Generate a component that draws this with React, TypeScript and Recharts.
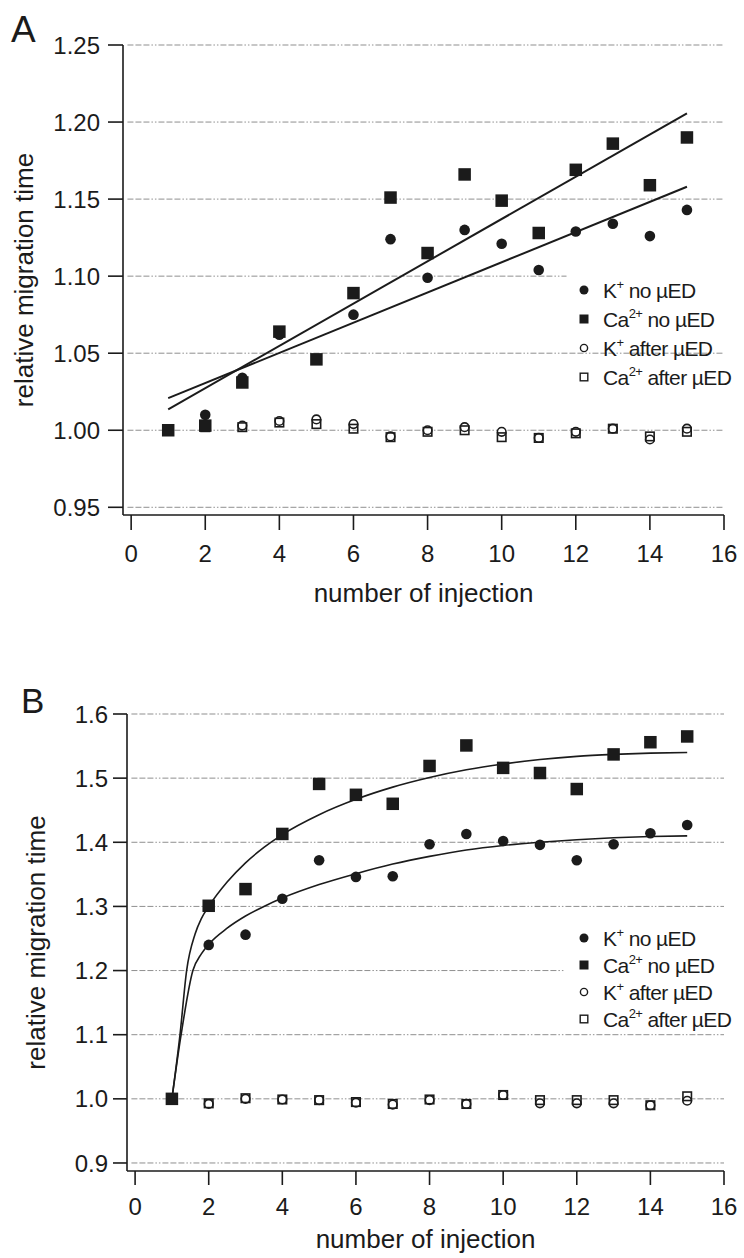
import React from "react";
import {
  ComposedChart,
  Line,
  Scatter,
  XAxis,
  YAxis,
  ReferenceLine,
  Label,
} from "recharts";

const FONT = '"Liberation Sans", Arial, Helvetica, sans-serif';
const INK = "#1b1b1b";
const GRID = "#8f8f8f";

// number of injection
const injections = [1, 2, 3, 4, 5, 6, 7, 8, 9, 10, 11, 12, 13, 14, 15];
const xTicks = [0, 2, 4, 6, 8, 10, 12, 14, 16];

// panel A: relative migration time
const kNoA = [1.0, 1.01, 1.034, 1.062, 1.046, 1.075, 1.124, 1.099, 1.13, 1.121, 1.104, 1.129, 1.134, 1.126, 1.143];
const caNoA = [1.0, 1.003, 1.031, 1.064, 1.046, 1.089, 1.151, 1.115, 1.166, 1.149, 1.128, 1.169, 1.186, 1.159, 1.19];
const kAfterA = [1.0, 1.003, 1.003, 1.006, 1.007, 1.004, 0.996, 1.0, 1.002, 0.999, 0.995, 0.999, 1.001, 0.994, 1.001];
const caAfterA = [1.0, 1.002, 1.002, 1.005, 1.004, 1.001, 0.9955, 0.999, 1.0, 0.9955, 0.995, 0.998, 1.001, 0.996, 0.999];
// linear fits, end points
const fitXA = [1, 15];
const kFitA = [1.0208, 1.158];
const caFitA = [1.0136, 1.2057];
const yTicksA = [0.95, 1.0, 1.05, 1.1, 1.15, 1.2, 1.25];

// panel B
const kNoB = [1.0, 1.24, 1.256, 1.312, 1.372, 1.346, 1.347, 1.397, 1.413, 1.402, 1.396, 1.372, 1.397, 1.414, 1.427];
const caNoB = [1.0, 1.301, 1.327, 1.413, 1.491, 1.474, 1.46, 1.519, 1.551, 1.516, 1.508, 1.483, 1.537, 1.556, 1.565];
const kAfterB = [1.0, 0.992, 1.0, 0.999, 0.998, 0.994, 0.991, 0.998, 0.992, 1.006, 0.993, 0.993, 0.993, 0.99, 0.997];
const caAfterB = [1.0, 0.993, 1.001, 0.999, 0.998, 0.995, 0.992, 0.999, 0.992, 1.006, 0.998, 0.998, 0.998, 0.99, 1.004];
// fitted curves
const kFitXB = [1, 1.25, 1.57, 1.8, 2, 2.5, 3, 3.5, 4, 5, 6, 7, 8, 9, 10, 11, 12, 13, 14, 15];
const kFitB = [1.0, 1.1, 1.2, 1.226, 1.241, 1.266, 1.285, 1.3, 1.313, 1.334, 1.351, 1.366, 1.378, 1.388, 1.395, 1.4, 1.404, 1.407, 1.409, 1.41];
const caFitXB = [1, 1.22, 1.4, 1.63, 1.8, 2, 2.5, 3, 3.5, 4, 5, 6, 7, 8, 9, 10, 11, 12, 13, 14, 15];
const caFitB = [1.0, 1.1, 1.2, 1.257, 1.281, 1.3, 1.338, 1.368, 1.392, 1.412, 1.443, 1.467, 1.486, 1.501, 1.513, 1.522, 1.529, 1.534, 1.537, 1.539, 1.54];
const yTicksB = [0.9, 1.0, 1.1, 1.2, 1.3, 1.4, 1.5, 1.6];

const legendIons = ["K", "Ca", "K", "Ca"];
const legendCharges = ["+", "2+", "+", "2+"];
const legendStates = ["no \u00b5ED", "no \u00b5ED", "after \u00b5ED", "after \u00b5ED"];

const rows = (xs: number[], ys: number[]) => xs.map((x, i) => ({ x, y: ys[i] }));

const dashDot = "6 2 6 2 6 2 1.5 2 1.5 2";

const FilledCircle = (r: number) => (p: any) => <circle cx={p.cx} cy={p.cy} r={r} fill={INK} />;
const FilledSquare = (s: number) => (p: any) => (
  <rect x={p.cx - s / 2} y={p.cy - s / 2} width={s} height={s} fill={INK} />
);
const OpenCircle = (r: number) => (p: any) => (
  <circle cx={p.cx} cy={p.cy} r={r} fill="#fff" stroke={INK} strokeWidth={1.6} />
);
const OpenSquare = (s: number) => (p: any) => (
  <rect x={p.cx - s / 2} y={p.cy - s / 2} width={s} height={s} fill="none" stroke={INK} strokeWidth={1.6} />
);

function LegendSvg({ top, step }: { top: number; step: number }) {
  const mx = 14;
  const tx = 33;
  return (
    <svg
      style={{ position: "absolute", left: 570, top: top - 16, overflow: "visible" }}
      width={170}
      height={step * 4 + 20}
    >
      {legendIons.map((ion, i) => {
        const y = 16 + i * step;
        let marker;
        if (i === 0) marker = <circle cx={mx} cy={y} r={4.5} fill={INK} />;
        else if (i === 1) marker = <rect x={mx - 4.5} y={y - 4.5} width={9} height={9} fill={INK} />;
        else if (i === 2) marker = <circle cx={mx} cy={y} r={3.6} fill="none" stroke={INK} strokeWidth={1.4} />;
        else marker = <rect x={mx - 3.8} y={y - 3.8} width={7.6} height={7.6} fill="none" stroke={INK} strokeWidth={1.4} />;
        return (
          <g key={i}>
            {marker}
            <text x={tx} y={y + 7.5} fontFamily={FONT} fontSize={21} letterSpacing={-0.6} fill={INK}>
              {ion}
              <tspan fontSize={13} dy={-9}>
                {legendCharges[i]}
              </tspan>
              <tspan dy={9}>{" " + legendStates[i]}</tspan>
            </text>
          </g>
        );
      })}
    </svg>
  );
}

type PanelProps = {
  top: number;
  height: number;
  marginTop: number;
  marginLeft: number;
  xAxisHeight: number;
  yDomain: [number, number];
  yTicks: number[];
  digits: number;
  tickSize: number;
  xTickMargin: number;
  yTickMargin: number;
  yLabelOffset: number;
  xLabelOffset: number;
  kNo: number[];
  caNo: number[];
  kAfter: number[];
  caAfter: number[];
  kFit: { x: number; y: number }[];
  caFit: { x: number; y: number }[];
  fitType: "linear" | "monotone";
  fitWidth: number;
  cutTick: number;
  cutEnd: number;
};

function Panel(p: PanelProps) {
  const tick = { fill: INK, fontSize: 24, fontFamily: FONT };
  return (
    <div style={{ position: "absolute", left: 0, top: p.top, width: 744, height: p.height }}>
      <ComposedChart
        width={744}
        height={p.height}
        margin={{ top: p.marginTop, right: 20, bottom: 0, left: p.marginLeft }}
      >
        <XAxis
          type="number"
          dataKey="x"
          domain={[-0.22, 16]}
          ticks={xTicks}
          interval={0}
          allowDataOverflow
          height={p.xAxisHeight}
          tickSize={p.tickSize}
          tickMargin={p.xTickMargin}
          stroke={INK}
          strokeWidth={1.6}
          tick={tick}
        >
          <Label
            value="number of injection"
            position="insideBottom"
            offset={p.xLabelOffset}
            style={{ fontSize: 26, fontFamily: FONT, fill: INK }}
          />
        </XAxis>
        <YAxis
          type="number"
          dataKey="y"
          domain={p.yDomain}
          ticks={p.yTicks}
          interval={0}
          allowDataOverflow
          width={80}
          tickSize={p.tickSize}
          tickMargin={p.yTickMargin}
          tickFormatter={(v: number) => v.toFixed(p.digits)}
          stroke={INK}
          strokeWidth={1.6}
          tick={tick}
        >
          <Label
            value="relative migration time"
            angle={-90}
            position="left"
            offset={p.yLabelOffset}
            textAnchor="middle"
            style={{ fontSize: 26, fontFamily: FONT, fill: INK }}
          />
        </YAxis>
        {p.yTicks.map((v) => (
          <ReferenceLine
            key={v}
            segment={[
              { x: -0.1, y: v },
              { x: v === p.cutTick ? p.cutEnd : 16, y: v },
            ]}
            stroke={GRID}
            strokeWidth={1}
            strokeDasharray={dashDot}
          />
        ))}
        <Scatter data={rows(injections, p.kAfter)} shape={OpenCircle(4.3)} isAnimationActive={false} />
        <Scatter data={rows(injections, p.caAfter)} shape={OpenSquare(8.5)} isAnimationActive={false} />
        <Scatter data={rows(injections, p.kNo)} shape={FilledCircle(5.3)} isAnimationActive={false} />
        <Scatter data={rows(injections, p.caNo)} shape={FilledSquare(12.5)} isAnimationActive={false} />
        <Line
          data={p.kFit}
          dataKey="y"
          type={p.fitType}
          stroke={INK}
          strokeWidth={p.fitWidth}
          dot={false}
          activeDot={false}
          isAnimationActive={false}
        />
        <Line
          data={p.caFit}
          dataKey="y"
          type={p.fitType}
          stroke={INK}
          strokeWidth={p.fitWidth}
          dot={false}
          activeDot={false}
          isAnimationActive={false}
        />
      </ComposedChart>
    </div>
  );
}

export default function App() {
  return (
    <div style={{ position: "absolute", left: 0, top: 0, width: 744, height: 1258, background: "#fff" }}>
      <Panel
        top={0}
        height={620}
        marginTop={45}
        marginLeft={43}
        xAxisHeight={105}
        yDomain={[0.945, 1.25]}
        yTicks={yTicksA}
        digits={2}
        tickSize={15}
        xTickMargin={15}
        yTickMargin={8}
        yLabelOffset={19}
        xLabelOffset={18}
        kNo={kNoA}
        caNo={caNoA}
        kAfter={kAfterA}
        caAfter={caAfterA}
        kFit={rows(fitXA, kFitA)}
        caFit={rows(fitXA, caFitA)}
        fitType="linear"
        fitWidth={2}
        cutTick={1.1}
        cutEnd={11.75}
      />
      <Panel
        top={620}
        height={638}
        marginTop={94}
        marginLeft={47}
        xAxisHeight={87}
        yDomain={[0.8875, 1.6]}
        yTicks={yTicksB}
        digits={1}
        tickSize={14}
        xTickMargin={13}
        yTickMargin={5}
        yLabelOffset={11}
        xLabelOffset={10}
        kNo={kNoB}
        caNo={caNoB}
        kAfter={kAfterB}
        caAfter={caAfterB}
        kFit={rows(kFitXB, kFitB)}
        caFit={rows(caFitXB, caFitB)}
        fitType="monotone"
        fitWidth={1.6}
        cutTick={1.2}
        cutEnd={11.68}
      />
      <LegendSvg top={290} step={29} />
      <LegendSvg top={938} step={27} />
      <svg style={{ position: "absolute", left: 0, top: 0 }} width={60} height={60}>
        <text x={11} y={42} fontFamily={FONT} fontSize={37} fill={INK}>
          A
        </text>
      </svg>
      <svg style={{ position: "absolute", left: 0, top: 670 }} width={60} height={60}>
        <text x={21} y={43} fontFamily={FONT} fontSize={35} fill={INK}>
          B
        </text>
      </svg>
    </div>
  );
}
